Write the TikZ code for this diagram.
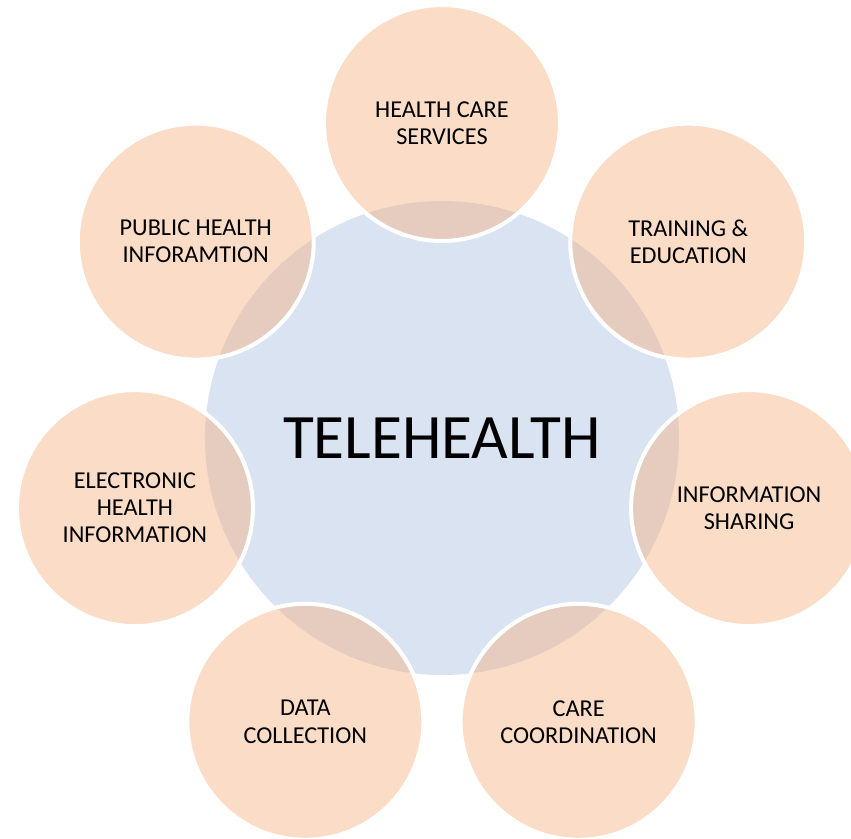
\documentclass[tikz,border=0pt]{standalone}
\usepackage{fontspec}
\setmainfont{Carlito}

\definecolor{hubblue}{HTML}{DAE3F1}
\definecolor{petal}{HTML}{F4B183}

\newcommand*{\ringr}{6.3}

\begin{document}
\begin{tikzpicture}
[
	hub/.style={circle,fill=hubblue,inner sep=0pt,minimum size=9.48cm,font=\fontsize{36}{40}\selectfont},
	petalnode/.style={circle,fill=petal,fill opacity=0.45,text opacity=1,draw=white,draw opacity=1,line width=2.3pt,inner sep=0pt,minimum size=4.72cm,align=center,font=\fontsize{13.8}{15.4}\selectfont}
]

	% frame
	\useasboundingbox (-8.84,-8.0) rectangle (8.18,8.76);

	% centre
	\node[hub] (hub) at (0,0) {TELEHEALTH};

	% outer ring
	\node[petalnode] (svc) at (90:\ringr) {HEALTH CARE\\SERVICES};
	\node[petalnode] (train) at (38.57:\ringr) {TRAINING \&\\EDUCATION};
	\node[petalnode] (share) at (-12.86:\ringr) {INFORMATION\\SHARING};
	\node[petalnode] (coord) at (-64.29:\ringr) {CARE\\COORDINATION};
	\node[petalnode] (data) at (-115.71:\ringr) {DATA\\COLLECTION};
	\node[petalnode] (ehi) at (-167.14:\ringr) {ELECTRONIC\\HEALTH\\INFORMATION};
	\node[petalnode] (phi) at (141.43:\ringr) {PUBLIC HEALTH\\INFORAMTION};

\end{tikzpicture}
\end{document}
